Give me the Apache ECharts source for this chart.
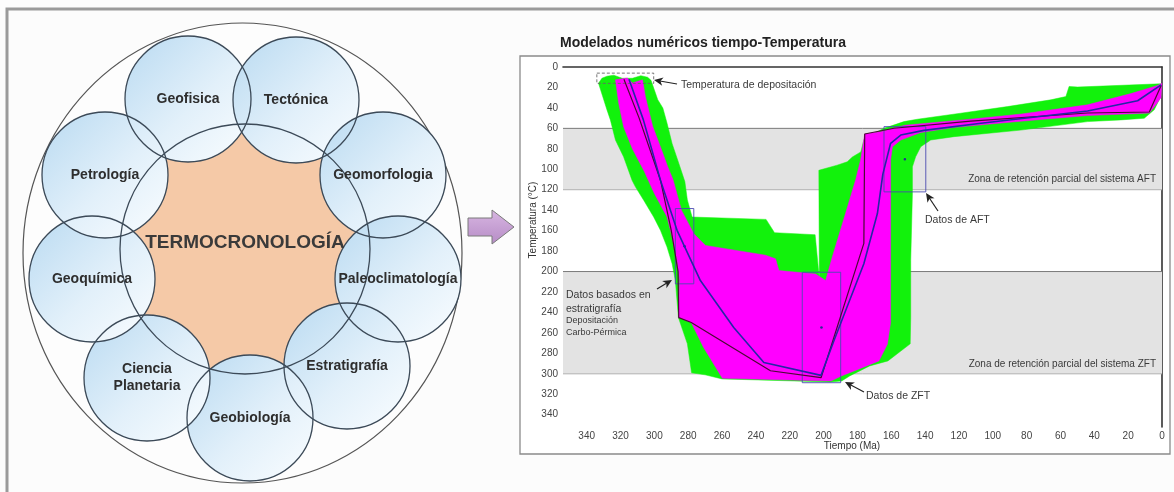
<!DOCTYPE html>
<html><head><meta charset="utf-8">
<script src="https://cdn.jsdelivr.net/npm/echarts/dist/echarts.min.js"></script>
<style>html,body{margin:0;padding:0;background:#fcfcfc}#c{width:1174px;height:492px}</style>
</head><body><div id="c"></div>
<script>
// ---------------- DATA ----------------
const disciplines = ['Geofisica','Tectónica','Geomorfologia','Paleoclimatología','Estratigrafía','Geobiología','Ciencia\nPlanetaria','Geoquímica','Petrología'];
const centralLabel = 'TERMOCRONOLOGÍA';
const chartTitle = 'Modelados numéricos tiempo-Temperatura';
const xAxisTitle = 'Tiempo (Ma)';
const yAxisTitle = 'Temperatura (°C)';
const timeTickLabels = [0,20,40,60,80,100,120,140,160,180,200,220,240,260,280,300,320,340];
const tempTickLabels = [0,20,40,60,80,100,120,140,160,180,200,220,240,260,280,300,320,340];
// partial retention zones (°C)
const aftZone = [60, 120];
const zftZone = [200, 300];
// acceptable-fit envelope [Ma, °C]
const acceptableEnvelope = [
 [333,16],[331,11],[328,9],[324,8],[319,11],[313,11],[308,8.5],[304,10],[302,13],
 [298,32],[295,40],[292.5,55],[289.5,75],[285.6,94],[282,112],[280.5,130],[277.7,146.7],
 [234,149],[229,162],[205,164],[202.5,207],[202.8,101],[192,96],[186,92.7],[183,88],[178,83],
 [176,70],[164.3,60],[152.5,53.4],[144.6,51.1],[119,45.2],[91.3,38.7],[65.7,32.1],[56.8,28.9],
 [54.9,19],[49.9,19.6],[0.6,16.4],[0,17],[0.5,28],[4.6,41.9],[10.5,50.1],[24.3,51.7],[44,53.4],
 [83.4,61.7],[122.9,68.1],[136.7,71.4],[142.6,78],[145.6,87.8],[147.5,97.6],[147.5,123.7],
 [148.5,189.2],[148.5,245.2],[148.8,270.7],[162,287.4],[172.8,292.3],[184.6,302.1],[189.3,307],
 [196,308],[260,305],[270,301],[278,299],[280.5,270.7],[285.8,245],[287.6,208.8],[289.5,192.4],
 [292.5,176.1],[296.4,159.7],[300.4,146.7],[306.3,130.3],[311.2,117.2],[313.2,110.7],[318.2,87.8],
 [323,71.4],[326,51.7],[328,42]
];
// good-fit envelope [Ma, °C]
const goodEnvelope = [
 [323,12.5],[316,10.8],[313,15.7],[307,12.5],[305.3,29],[301,58],[296,80],[292,98],[289,110],
 [287,122],[284,140],[276.7,163],[269.8,174.5],[234.3,184],[228.4,187.5],[226.4,199],[204.7,202.3],
 [198.8,208.8],[194.9,186],[187,143],[181,110],[178,90],[175.7,65.5],[166.3,63.2],[152,57],
 [113,51],[83,46],[44,37],[18.3,26],[2.5,18],[0,16],[0.6,30],[4.6,39],[7.5,45],[44,47.5],
 [83.4,53],[122.9,59],[142.6,64],[154.4,71.4],[159.3,78],[160.4,91],[160.4,189.2],[160.4,250],
 [162.3,271],[167.3,287.4],[182,297.2],[189.5,302.1],[195.6,307],[259.8,304.4],[271,274],
 [278.2,249.8],[285.6,245],[285,208.8],[286.6,189.2],[289.5,166.3],[292.5,146.7],[300,123.7],
 [306,102],[313,80],[318.2,58.3],[321.1,35.3]
];
// best-fit path
const bestFitPath = [
 [315,12],[306.5,51.7],[296.4,110.7],[286.6,159.7],[272.8,208.8],[253.1,254.7],[235.3,289],
 [201.5,301.5],[193.9,267.7],[176.2,192.4],[168.2,143.3],[165,105],[160.4,74.6],[154.4,66.5],
 [140.7,62],[107,55],[44,43],[14.4,33],[0.5,17.5]
];
// second (weighted mean) path
const meanPath = [
 [318,12],[309,50],[296.4,110.7],[290,160],[286,200],[285.6,245],[278.2,249.8],[231.4,297],
 [201.5,303.8],[176.2,172.5],[175.7,65.5],[158.4,59.9],[113,53],[44,45],[7.5,44],[0.5,18]
];
// constraint boxes [tOld, tYoung, Tlow, Thigh]
const constraintBoxes = [
 [287.6,276.7,138.4,212],
 [164.3,139.6,58.3,122.1],
 [212.6,189.9,200.7,308.7]
];
const depositionBox = [334,300.4,6,16];

// ---------------- LAYOUT (diagram) ----------------
const circleLayout = [[188,99],[296,100],[383,175],[398,279],[347,366],[250,418],[147,378],[92,279],[105,175]];
const satR = 63;
const FONT = 'Liberation Sans, Arial, sans-serif';

const gfx = [];
gfx.push({type:'rect', shape:{x:7,y:9,width:1200,height:600}, style:{fill:'none', stroke:'#9a9a9a', lineWidth:3}, z:1});
gfx.push({type:'rect', shape:{x:520,y:56,width:650,height:398}, style:{fill:'#ffffff', stroke:'#8a8a8a', lineWidth:1.3}, z:0});
gfx.push({type:'ellipse', shape:{cx:242.5, cy:253, rx:219.5, ry:230}, style:{fill:'#fdfdfd', stroke:'#555', lineWidth:1.2}, z:1});
gfx.push({type:'circle', shape:{cx:245, cy:249, r:125}, style:{fill:'#f5c9a7'}, z:2});
circleLayout.forEach(c => {
  gfx.push({type:'circle', shape:{cx:c[0], cy:c[1], r:satR}, z:3,
    style:{fill:new echarts.graphic.LinearGradient(0,0,1,1,[{offset:0,color:'#b9daf1'},{offset:0.55,color:'#e2f0fa'},{offset:1,color:'#fafdff'}])}});
});
gfx.push({type:'circle', shape:{cx:245, cy:249, r:125}, style:{fill:'none', stroke:'#3c4a58', lineWidth:1.3}, z:4});
circleLayout.forEach(c => {
  gfx.push({type:'circle', shape:{cx:c[0], cy:c[1], r:satR}, style:{fill:'none', stroke:'#3c4a58', lineWidth:1.3}, z:4});
});
disciplines.forEach((name,i) => {
  const c = circleLayout[i];
  gfx.push({type:'text', x:c[0], y:c[1], z:5, style:{text:name, fill:'#2e2e2e', fontSize:14, fontWeight:'bold', fontFamily:FONT,
    align:'center', verticalAlign:'middle', textAlign:'center', textVerticalAlign:'middle', lineHeight:17}});
});
gfx.push({type:'text', x:245, y:243, z:5, style:{text:centralLabel, fill:'#3a3a3a', fontSize:19, fontWeight:'bold', fontFamily:FONT,
  align:'center', verticalAlign:'middle', textAlign:'center', textVerticalAlign:'middle'}});
// block arrow
gfx.push({type:'polygon', z:5, shape:{points:[[468,218],[492,218],[492,210],[514,227],[492,244],[492,236],[468,236]]},
  style:{fill:new echarts.graphic.LinearGradient(0,0,0,1,[{offset:0,color:'#d8b6e2'},{offset:1,color:'#b68cc6'}]), stroke:'#7a7a7a', lineWidth:1}});
// title
gfx.push({type:'text', x:560, y:43, z:5, style:{text:chartTitle, fill:'#222', fontSize:14, fontWeight:'bold', fontFamily:FONT,
  align:'left', verticalAlign:'middle', textAlign:'left', textVerticalAlign:'middle'}});
// axis titles
gfx.push({type:'text', x:852, y:446, z:5, style:{text:xAxisTitle, fill:'#333', fontSize:10, fontFamily:FONT,
  align:'center', verticalAlign:'middle', textAlign:'center', textVerticalAlign:'middle'}});
gfx.push({type:'text', x:533, y:220, z:5, rotation:Math.PI/2, style:{text:yAxisTitle, fill:'#333', fontSize:10, fontFamily:FONT,
  align:'center', verticalAlign:'middle', textAlign:'center', textVerticalAlign:'middle'}});
// annotations
function txt(s, x, y, size, align){
  gfx.push({type:'text', x:x, y:y, z:60, style:{text:s, fill:'#3a3a3a', fontSize:size, fontFamily:FONT,
    align:align||'left', verticalAlign:'middle', textAlign:align||'left', textVerticalAlign:'middle'}});
}
function arrow(x1,y1,x2,y2){
  const dx=x2-x1, dy=y2-y1, L=Math.hypot(dx,dy), ux=dx/L, uy=dy/L, px=-uy, py=ux;
  const hl=9, hw=4.2, bx=x2-ux*hl, by=y2-uy*hl;
  gfx.push({type:'line', z:60, shape:{x1:x1,y1:y1,x2:bx+ux*3,y2:by+uy*3}, style:{stroke:'#222', lineWidth:1.2}});
  gfx.push({type:'polygon', z:60, shape:{points:[[x2,y2],[bx+px*hw,by+py*hw],[x2-ux*hl*0.72,y2-uy*hl*0.72],[bx-px*hw,by-py*hw]]}, style:{fill:'#222'}});
}
txt('Temperatura de depositación', 681, 85, 10.5);
arrow(677,84,654,80);
txt('Zona de retención parcial del sistema AFT', 1156, 179, 10, 'right');
txt('Datos de AFT', 925, 220, 10.5);
arrow(938,211,926,193);
txt('Zona de retención parcial del sistema ZFT', 1156, 364, 10, 'right');
txt('Datos de ZFT', 866, 396, 10.5);
arrow(864,392,845,382);
txt('Datos basados en', 566, 295, 10.5);
txt('estratigrafía', 566, 309, 10.5);
txt('Depositación', 566, 321, 9);
txt('Carbo-Pérmica', 566, 333, 9);
arrow(657,289,672,280);

// ---------------- CHART ----------------
const chart = echarts.init(document.getElementById('c'), null, {renderer:'canvas'});
const lbl = v => (v % 20 === 0 && tempTickLabels.indexOf(v) >= 0) ? String(v) : '';
const lblX = v => (v % 20 === 0 && timeTickLabels.indexOf(v) >= 0) ? String(v) : '';
function polySeries(name, pts, color, z){
  return {type:'custom', name:name, coordinateSystem:'cartesian2d', z:z, silent:true, data:[[pts[0][0], pts[0][1]]],
    encode:{x:0,y:1},
    renderItem:(params, api) => ({type:'polygon', shape:{points: pts.map(p => api.coord(p))}, style:{fill:color, stroke:color, lineWidth:0.5}})};
}
chart.setOption({
  animation:false,
  backgroundColor:'#fcfcfc',
  graphic:{elements:gfx},
  grid:{left:563, top:67, width:599, height:360, show:true, backgroundColor:'#ffffff', borderColor:'#a0a0a0', borderWidth:1},
  xAxis:{type:'value', inverse:true, min:0, max:354, interval:20,
    axisLine:{show:true, lineStyle:{color:'#333', width:1.6}}, axisTick:{show:false}, splitLine:{show:false},
    axisLabel:{formatter:lblX, fontSize:10, color:'#444', margin:4, fontFamily:FONT}},
  yAxis:{type:'value', inverse:true, min:0, max:352, interval:20,
    axisLine:{show:true, lineStyle:{color:'#333', width:1.6}}, axisTick:{show:false}, splitLine:{show:false},
    axisLabel:{formatter:lbl, fontSize:10, color:'#444', margin:5, fontFamily:FONT}},
  series:[
    {type:'custom', name:'zones', coordinateSystem:'cartesian2d', z:1, silent:true, data:[aftZone, zftZone], encode:{y:[0,1]},
      renderItem:(params, api) => {
        const lo = api.value(0), hi = api.value(1);
        const a = api.coord([354, lo]), b = api.coord([0, hi]);
        return {type:'group', children:[
          {type:'rect', shape:{x:a[0], y:a[1], width:b[0]-a[0], height:b[1]-a[1]}, style:{fill:'#e3e3e3'}},
          {type:'line', shape:{x1:a[0], y1:a[1], x2:b[0], y2:a[1]}, style:{stroke:'#7a7a7a', lineWidth:1}},
          {type:'line', shape:{x1:a[0], y1:b[1], x2:b[0], y2:b[1]}, style:{stroke:'#b0b0b0', lineWidth:1}}
        ]};
      }},
    polySeries('Ajuste aceptable', acceptableEnvelope, '#12f20c', 2),
    polySeries('Buen ajuste', goodEnvelope, '#ff00ff', 3),
    {type:'custom', name:'constraints', coordinateSystem:'cartesian2d', z:4, silent:true, data:constraintBoxes, encode:{x:[0,1], y:[2,3]},
      renderItem:(params, api) => {
        const a = api.coord([api.value(0), api.value(2)]), b = api.coord([api.value(1), api.value(3)]);
        return {type:'group', children:[
          {type:'rect', shape:{x:a[0], y:a[1], width:b[0]-a[0], height:b[1]-a[1]}, style:{fill:'none', stroke:'#4b4bb0', lineWidth:0.9}},
          {type:'circle', shape:{cx:(a[0]+b[0])/2, cy:(a[1]+b[1])/2, r:1.3}, style:{fill:'#2a2a90'}}
        ]};
      }},
    {type:'custom', name:'deposition', coordinateSystem:'cartesian2d', z:4, silent:true, data:[depositionBox], encode:{x:[0,1], y:[2,3]},
      renderItem:(params, api) => {
        const a = api.coord([api.value(0), api.value(2)]), b = api.coord([api.value(1), api.value(3)]);
        return {type:'rect', shape:{x:a[0], y:a[1], width:b[0]-a[0], height:b[1]-a[1]}, style:{fill:'none', stroke:'#666', lineWidth:0.9, lineDash:[3,2]}};
      }},
    {type:'line', name:'Trayectoria media', z:5, data:meanPath, symbol:'none', silent:true, lineStyle:{color:'#4a0a34', width:1.2}},
    {type:'line', name:'Mejor ajuste', z:6, data:bestFitPath, symbol:'none', silent:true, lineStyle:{color:'#2626a6', width:1.6}}
  ]
});
</script>
</body></html>
